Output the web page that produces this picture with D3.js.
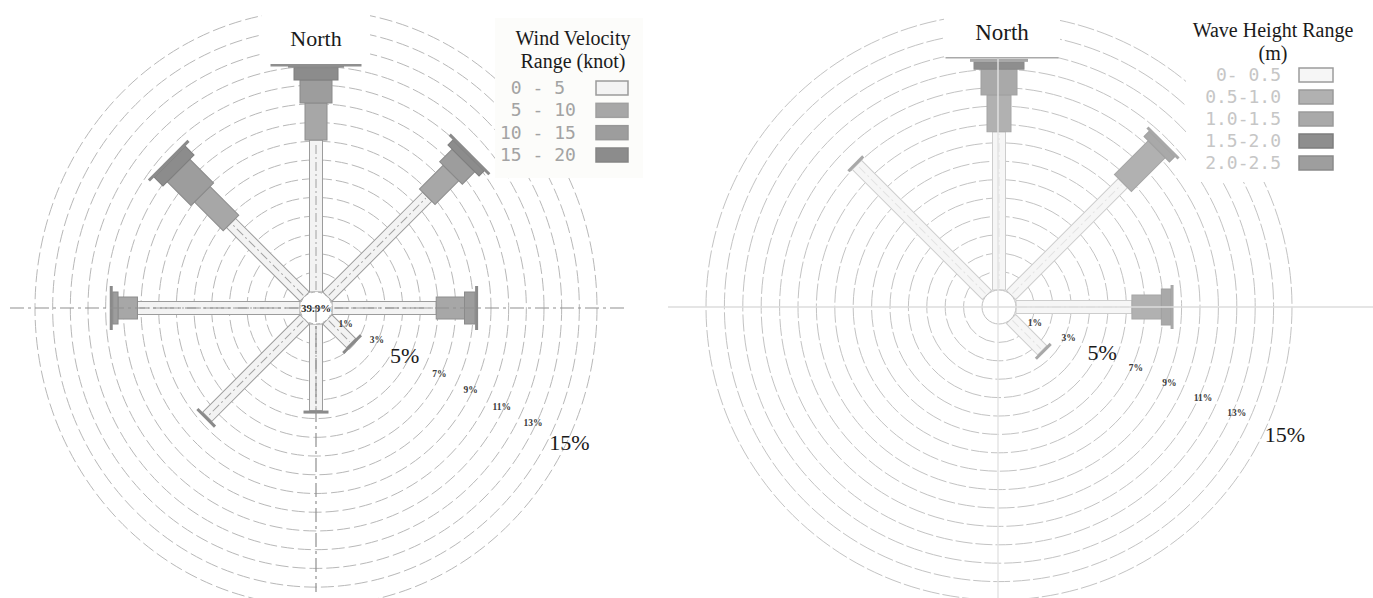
<!DOCTYPE html>
<html>
<head>
<meta charset="utf-8">
<script src="https://cdn.jsdelivr.net/npm/d3@7"></script>
<style>
  html, body { margin: 0; background: #fff; }
  svg { display: block; }
  text { white-space: pre; }
</style>
</head>
<body>
<svg id="chart" width="1373" height="598"></svg>
<script>
// ---- data -------------------------------------------------------------
const directions = ["N", "NE", "E", "SE", "S", "SW", "W", "NW"];
const ringTicks = [1, 3, 5, 7, 9, 11, 13, 15];
const bigTicks = [5, 15];

// wind rose: frequency (%) per direction for each speed class (knot)
const windClasses = [" 0 - 5", " 5 - 10", "10 - 15", "15 - 20"];
const wind0to5   = [8.6, 8.0, 5.9, 1.9, 4.9, 7.8, 9.2, 5.9];
const wind5to10  = [2.1, 1.9, 1.6, 0.0, 0.0, 0.0, 1.1, 2.3];
const wind10to15 = [1.3, 1.0, 0.6, 0.0, 0.0, 0.0, 0.3, 1.9];
const wind15to20 = [0.7, 0.4, 0.0, 0.0, 0.0, 0.0, 0.0, 0.7];
const windCalm = "39.9%";

// wave rose: frequency (%) per direction for each wave height class (m)
const waveClasses = ["0- 0.5", "0.5-1.0", "1.0-1.5", "1.5-2.0", "2.0-2.5"];
const wave0to05   = [8.6, 8.6, 6.3, 2.4, 0.0, 0.0, 0.0, 10.0];
const wave05to10  = [2.0, 2.6, 1.6, 0.0, 0.0, 0.0, 0.0, 0.0];
const wave10to15  = [1.4, 0.4, 0.5, 0.0, 0.0, 0.0, 0.0, 0.0];
const wave15to20  = [0.4, 0.0, 0.0, 0.0, 0.0, 0.0, 0.0, 0.0];
const wave20to25  = [0.0, 0.0, 0.0, 0.0, 0.0, 0.0, 0.0, 0.0];

// ---- drawing ----------------------------------------------------------
const svg = d3.select("#chart");
const serif = "'Liberation Serif', 'DejaVu Serif', serif";
const mono = "'DejaVu Sans Mono', 'Liberation Mono', monospace";

function buildRows(series) {
  return directions.map((d, i) => {
    const row = { dir: d };
    series.forEach((s, k) => { row["c" + k] = s[i]; });
    return row;
  });
}

function drawRose(o) {
  const root = svg.append("g");
  const g = root.append("g").attr("transform", `translate(${o.cx},${o.cy})`);
  const r = d3.scaleLinear().domain([0, 15]).range([o.r0, o.rMax]);
  const angle = d3.scalePoint().domain(directions).range([0, 315]);

  // percentage rings
  g.append("g").selectAll("ellipse")
    .data(d3.range(1, 16))
    .join("ellipse")
    .attr("rx", d => r(d))
    .attr("ry", d => r(d) * o.ringAspect)
    .attr("fill", "none")
    .attr("stroke", o.ringColor)
    .attr("stroke-width", 1)
    .attr("stroke-dasharray", o.ringDash);

  // axes through the centre
  o.axes(root);

  // white box behind the "North" label
  root.append("rect")
    .attr("x", o.north.x - o.north.w / 2).attr("y", o.north.y0)
    .attr("width", o.north.w).attr("height", o.north.h)
    .attr("fill", "#fff");

  // stacked arms
  const keys = o.series.map((s, k) => "c" + k);
  const rows = buildRows(o.series);
  const stacked = d3.stack().keys(keys)(rows);
  const arms = g.append("g");
  stacked.forEach((layer, k) => {
    layer.forEach((seg, i) => {
      const lo = seg[0], hi = seg[1];
      if (hi - lo <= 0) return;
      const w = o.widths[k];
      arms.append("rect")
        .attr("transform", `rotate(${angle(directions[i])})`)
        .attr("x", -w / 2).attr("y", -r(hi))
        .attr("width", w).attr("height", r(hi) - r(lo))
        .attr("fill", o.fills[k])
        .attr("stroke", o.strokes[k])
        .attr("stroke-width", 1);
      if (k === 0 && o.centreLine) {
        arms.append("line")
          .attr("transform", `rotate(${angle(directions[i])})`)
          .attr("x1", 0).attr("x2", 0)
          .attr("y1", -r(lo) - 2).attr("y2", -r(hi) + 2)
          .attr("stroke", o.centreLine)
          .attr("stroke-width", 1)
          .attr("stroke-dasharray", "9,3,2,3");
      }
    });
  });

  // end caps
  rows.forEach((row, i) => {
    const vals = keys.map(k => row[k]);
    const total = d3.sum(vals);
    if (total <= 0) return;
    let last = 0;
    vals.forEach((v, k) => { if (v > 0) last = k; });
    const w = o.widths[last] + o.capExtra;
    arms.append("rect")
      .attr("transform", `rotate(${angle(directions[i])})`)
      .attr("x", -w / 2).attr("y", -r(total) - o.capT)
      .attr("width", w).attr("height", o.capT)
      .attr("fill", o.capFill);
  });

  // calm circle
  g.append("circle").attr("r", o.r0)
    .attr("fill", "#fff")
    .attr("stroke", o.calmStroke)
    .attr("stroke-dasharray", o.calmDash);
  if (o.calm) {
    g.append("text").attr("x", 0).attr("y", 4)
      .attr("text-anchor", "middle")
      .attr("font-family", serif).attr("font-weight", "bold")
      .attr("font-size", 11).attr("fill", "#222")
      .text(o.calm);
  }

  // ring labels
  g.append("g").selectAll("text")
    .data(ringTicks)
    .join("text")
    .attr("x", d => (r(d) + o.labelOffset(d)) * Math.cos(o.labelAngle * Math.PI / 180))
    .attr("y", d => (r(d) + o.labelOffset(d)) * Math.sin(o.labelAngle * Math.PI / 180))
    .attr("text-anchor", "middle")
    .attr("dominant-baseline", "central")
    .attr("font-family", serif)
    .attr("font-weight", d => bigTicks.includes(d) ? "normal" : "bold")
    .attr("font-size", d => bigTicks.includes(d) ? 22 : 9.5)
    .attr("fill", d => bigTicks.includes(d) ? "#1a1a1a" : "#3a3a3a")
    .text(d => d + "%");

  // North label
  root.append("text")
    .attr("x", o.north.x).attr("y", o.north.base)
    .attr("text-anchor", "middle")
    .attr("font-family", serif).attr("font-size", o.north.size)
    .attr("fill", "#1a1a1a")
    .text("North");
  root.append("rect")
    .attr("x", o.north.x - o.north.plate / 2).attr("y", o.north.plateY)
    .attr("width", o.north.plate).attr("height", o.north.plateT)
    .attr("fill", o.north.plateFill);

  // legend
  const L = o.legend;
  const lg = svg.append("g");
  lg.append("rect").attr("x", L.x).attr("y", L.y).attr("width", L.w).attr("height", L.h)
    .attr("fill", L.bg);
  lg.selectAll("text.title").data(L.title).join("text")
    .attr("class", "title")
    .attr("x", L.titleX).attr("y", (d, i) => L.titleY + i * 23)
    .attr("text-anchor", "middle")
    .attr("font-family", serif).attr("font-size", 20).attr("fill", "#1a1a1a")
    .text(d => d);
  const rowY = d3.scalePoint().domain(o.classes).range(L.rowRange);
  lg.selectAll("text.entry").data(o.classes).join("text")
    .attr("class", "entry")
    .attr("x", L.textX).attr("y", d => rowY(d) + 6)
    .attr("text-anchor", L.anchor)
    .attr("font-family", mono).attr("font-size", 18).attr("fill", L.textColor)
    .text(d => d);
  lg.selectAll("rect.sw").data(o.classes).join("rect")
    .attr("class", "sw")
    .attr("x", L.swX).attr("y", d => rowY(d) - 7)
    .attr("width", L.swW).attr("height", 14)
    .attr("fill", (d, k) => o.fills[k])
    .attr("stroke", (d, k) => L.swStroke[k])
    .attr("stroke-width", 1.5);
}

// wind rose (left)
drawRose({
  cx: 316, cy: 308, r0: 16, rMax: 281, ringAspect: 1.06,
  series: [wind0to5, wind5to10, wind10to15, wind15to20],
  classes: windClasses,
  widths: [13, 22, 32, 44],
  fills: ["#f3f3f3", "#a7a7a7", "#9d9d9d", "#8c8c8c"],
  strokes: ["#9c9c9c", "#8e8e8e", "#8a8a8a", "#7e7e7e"],
  centreLine: "#a0a0a0",
  capExtra: 12, capT: 3, capFill: "#8a8a8a",
  ringColor: "#b8b8b8", ringDash: "13,4",
  calmStroke: "#b0b0b0", calmDash: "4,3",
  calm: windCalm,
  labelAngle: 28,
  labelOffset: d => d === 15 ? 6 : (d === 5 ? -4 : 0),
  axes: root => {
    root.append("line").attr("x1", 10).attr("x2", 628).attr("y1", 308).attr("y2", 308)
      .attr("stroke", "#8f8f8f").attr("stroke-width", 1.2).attr("stroke-dasharray", "14,4,3,4");
    root.append("line").attr("x1", 316).attr("x2", 316).attr("y1", 308).attr("y2", 592)
      .attr("stroke", "#8f8f8f").attr("stroke-width", 1.2).attr("stroke-dasharray", "14,4,3,4");
  },
  north: { x: 316, y0: 6, w: 108, h: 59, base: 46, size: 22,
           plate: 91, plateY: 64, plateT: 2.5, plateFill: "#8f8f8f" },
  legend: { x: 495, y: 18, w: 148, h: 160, bg: "#fcfcfa",
            title: ["Wind Velocity", "Range (knot)"], titleX: 573, titleY: 45,
            rowRange: [88, 155], textX: 500, anchor: "start", textColor: "#a3a3a3",
            swX: 596, swW: 32,
            swStroke: ["#9a9a9a", "#a0a0a0", "#979797", "#858585"] }
});

// wave rose (right)
drawRose({
  cx: 999, cy: 307, r0: 17, rMax: 293, ringAspect: 1.0,
  series: [wave0to05, wave05to10, wave10to15, wave15to20, wave20to25],
  classes: waveClasses,
  widths: [13, 24, 36, 50, 56],
  fills: ["#f6f6f6", "#b1b1b1", "#a9a9a9", "#8e8e8e", "#9e9e9e"],
  strokes: ["#cdcdcd", "#a6a6a6", "#a0a0a0", "#8a8a8a", "#909090"],
  centreLine: "#e2e2e2",
  capExtra: 8, capT: 3, capFill: "#a8a8a8",
  ringColor: "#c3c3c3", ringDash: "17,3",
  calmStroke: "#c0c0c0", calmDash: null,
  calm: null,
  labelAngle: 24,
  labelOffset: d => d === 15 ? 20 : 4,
  axes: root => {
    root.append("line").attr("x1", 668).attr("x2", 1373).attr("y1", 307).attr("y2", 307)
      .attr("stroke", "#dcdcdc").attr("stroke-width", 1.6);
    root.append("line").attr("x1", 998).attr("x2", 998).attr("y1", 0).attr("y2", 598)
      .attr("stroke", "#e3e3e3").attr("stroke-width", 1.4);
  },
  north: { x: 1002, y0: 0, w: 116, h: 57, base: 40, size: 23,
           plate: 113, plateY: 57, plateT: 1.5, plateFill: "#a9a9a9" },
  legend: { x: 1186, y: 4, w: 187, h: 178, bg: "#ffffff",
            title: ["Wave Height Range", "(m)"], titleX: 1273, titleY: 37,
            rowRange: [75, 163], textX: 1281, anchor: "end", textColor: "#c6c6c6",
            swX: 1299, swW: 34,
            swStroke: ["#9c9c9c", "#9a9a9a", "#9a9a9a", "#7d7d7d", "#8a8a8a"] }
});
</script>
</body>
</html>
